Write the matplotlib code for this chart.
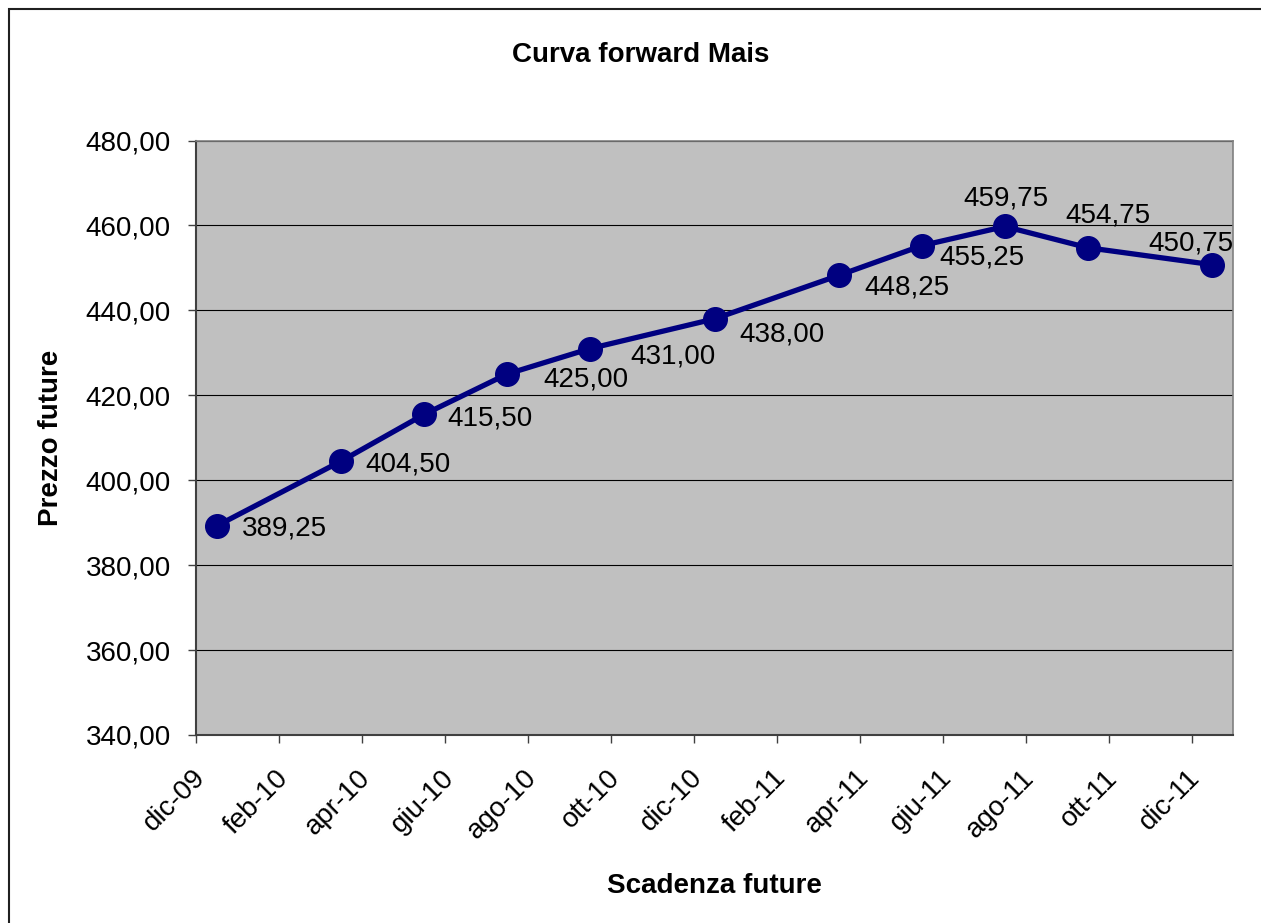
import numpy as np
import matplotlib
matplotlib.use('Agg')
import matplotlib.pyplot as plt
from matplotlib.patches import Rectangle
from matplotlib.ticker import FuncFormatter, MultipleLocator
from matplotlib.transforms import ScaledTranslation

# contratti future mais (scadenza anno-mese) e prezzi
contracts = ['2009-12', '2010-03', '2010-05', '2010-07', '2010-09', '2010-12',
             '2011-03', '2011-05', '2011-07', '2011-09', '2011-12']
prices = [389.25, 404.50, 415.50, 425.00, 431.00, 438.00,
          448.25, 455.25, 459.75, 454.75, 450.75]

mesi = ['gen', 'feb', 'mar', 'apr', 'mag', 'giu',
        'lug', 'ago', 'set', 'ott', 'nov', 'dic']
start_year, start_month = 2009, 12
n_months = 25

# spostamento delle etichette dei valori (pixel) e allineamento
label_offsets = [(25, -10), (24, -10), (23, -11), (36, -12), (40, -15), (25, -23),
                 (25, -19), (17, -19), (1, 21), (20, 25), (-21, 14)]
label_align = ['left'] * 8 + ['center'] * 3

plt.rcParams['font.family'] = ['Liberation Sans', 'DejaVu Sans']


def month_index(s):
	y, m = [int(v) for v in s.split('-')]
	return (y - start_year) * 12 + (m - start_month)


def fmt_it(v):
	return '{:.2f}'.format(v).replace('.', ',')


def month_label(i, pos=None):
	i = int(round(i))
	m = (start_month - 1 + i) % 12
	y = start_year + (start_month - 1 + i) // 12
	return '{}-{:02d}'.format(mesi[m], y % 100)


x = np.array([month_index(c) for c in contracts]) + 0.5

fig = plt.figure(figsize=(12.61, 9.23), dpi=100)
ax = fig.add_axes([196 / 1261, 1 - 735 / 923, (1233 - 196) / 1261, (735 - 140.5) / 923])
ax.set_facecolor('#c0c0c0')

ax.plot(x, prices, color='#000080', lw=3.8, marker='o', ms=17, zorder=3, clip_on=False)

for xi, p, off, ha in zip(x, prices, label_offsets, label_align):
	ax.annotate(fmt_it(p), (xi, p), xytext=off, textcoords='offset pixels',
				ha=ha, va='baseline', fontsize=20, zorder=4)

ax.set_xlim(0, n_months)
ax.set_ylim(340, 480)
ax.yaxis.set_major_locator(MultipleLocator(20))
ax.xaxis.set_major_locator(MultipleLocator(2))
ax.yaxis.set_major_formatter(FuncFormatter(lambda v, pos: fmt_it(v)))
ax.xaxis.set_major_formatter(FuncFormatter(month_label))
ax.grid(axis='y', color='black', lw=0.8)
ax.set_axisbelow(True)

for s in ['top', 'right']:
	ax.spines[s].set_color('#808080')
	ax.spines[s].set_linewidth(1.2)
for s in ['left', 'bottom']:
	ax.spines[s].set_color('#404040')
	ax.spines[s].set_linewidth(1.5)

ax.tick_params(axis='both', direction='out', length=6, width=1, color='#404040', labelsize=20)
ax.tick_params(axis='y', pad=12)
ax.tick_params(axis='x', pad=22)
shift = ScaledTranslation(5 / 100, 0, fig.dpi_scale_trans)
for lab in ax.get_xticklabels():
	lab.set_rotation(45)
	lab.set_rotation_mode('anchor')
	lab.set_ha('right')
	lab.set_va('center')
	lab.set_transform(lab.get_transform() + shift)

ax.set_xlabel('Scadenza future', fontsize=20, fontweight='bold')
ax.xaxis.set_label_coords(0.5, -(873 - 735) / (735 - 140.5))
ax.set_ylabel('Prezzo future', fontsize=20, fontweight='bold')
ax.yaxis.set_label_coords(-(196 - 64) / (1233 - 196), 0.5)

fig.text(641 / 1261, 1 - 55 / 923, 'Curva forward Mais', fontsize=20, fontweight='bold',
		 ha='center', va='center')

# bordo dell'area grafico
fig.patches.append(Rectangle((8.5 / 1261, -0.1), 1.2, 1.1 - 9.5 / 923, transform=fig.transFigure,
							 fill=False, edgecolor='#202020', lw=1.5))

fig.savefig('out.png', dpi=100)
